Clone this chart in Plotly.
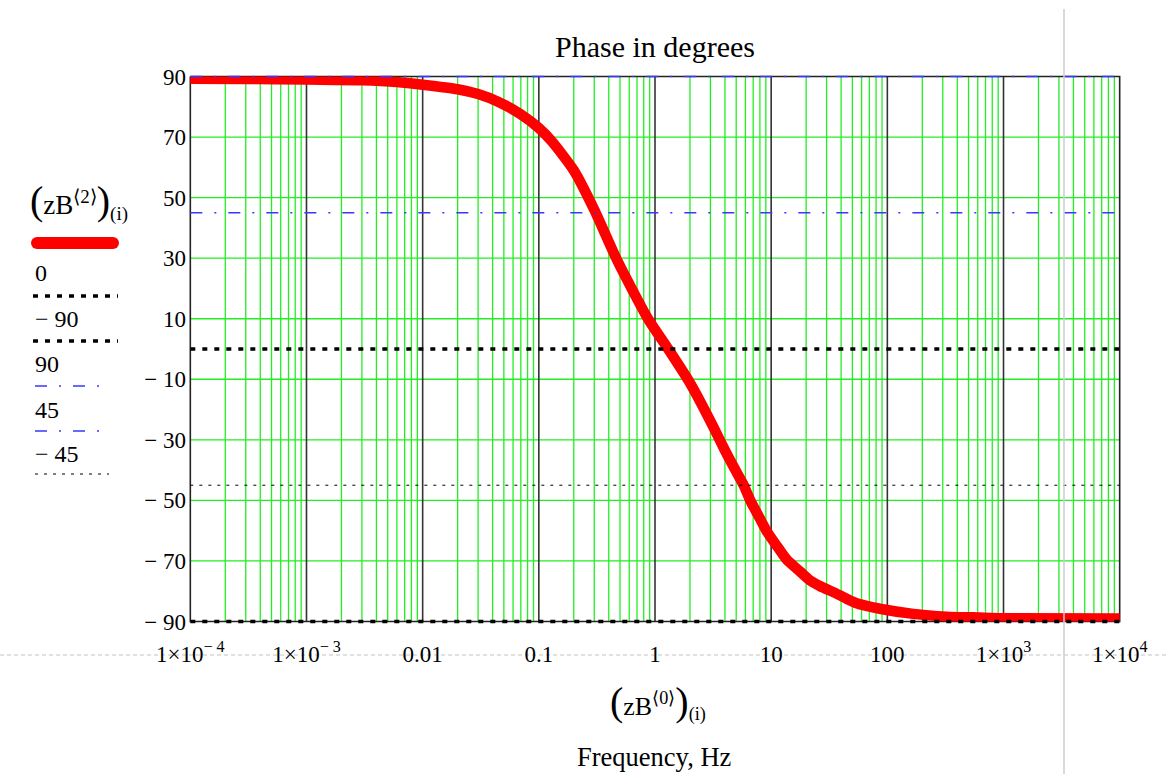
import plotly.graph_objects as go

# ---------------- data ----------------
freq = [1e-4, 3e-4, 1e-3, 3e-3, 6e-3, 0.01, 0.02, 0.03, 0.045, 0.07, 0.1, 0.13,
        0.2, 0.3, 0.47, 0.87, 1.3, 1.95, 2.5, 3.2, 4.0, 5.0, 5.8, 6.6, 8.0, 9.1, 11.9, 13.6,
        17.7, 21.5, 26.2, 36.5, 44.6, 54.3, 86, 167, 323, 625, 1000, 10000]
phase = [89.3, 89.2, 89.0, 88.8, 88.2, 87.3, 85.8, 84.2, 81.6, 77.5, 73.0, 68.5,
         59.0, 46.0, 29.5, 10.0, 0.0, -10.5, -18.0, -26.0, -33.5, -40.5, -45.0, -50.0, -56.0,
         -60.0, -66.5, -69.5, -73.5, -76.4, -78.3, -80.8, -82.5, -84.0, -85.8, -87.5, -88.4,
         -88.7, -88.9, -89.0]

ref_levels_dotted = [0, -90]      # thick black dotted
ref_levels_dashdot = [90, 45]     # blue dash-dot
ref_levels_thin = [-45]           # thin black dotted

x_decades = [-4, -3, -2, -1, 0, 1, 2, 3, 4]
SUP = "<sup>{}</sup>"
x_ticktext = ["1×10" + SUP.format("\u2212 4"), "1×10" + SUP.format("\u2212 3"), "0.01", "0.1", "1",
              "10", "100", "1×10" + SUP.format("3"), "1×10" + SUP.format("4")]
y_tickvals = [-90, -70, -50, -30, -10, 10, 30, 50, 70, 90]
y_ticktext = ["\u2212 90", "\u2212 70", "\u2212 50", "\u2212 30", "\u2212 10", "10", "30", "50", "70", "90"]
y_green = [-70, -50, -30, -10, 10, 30, 50, 70]

FONT = "Liberation Serif, Times New Roman, serif"
GREEN = "#22ee22"
BLUE = "#3838ff"

xmin, xmax = 10 ** x_decades[0], 10 ** x_decades[-1]

# ---------------- pixel helpers for paper-positioned decorations ----------------
W, H = 1169, 774
PL, PT, PW, PH = 188, 72, 934, 554


def pxx(x):
    return (x - PL) / PW


def pxy(y):
    return (PT + PH - y) / PH


fig = go.Figure()

# green minor verticals
gx, gy = [], []
for k in x_decades[:-1]:
    for m in range(2, 10):
        v = m * 10 ** k
        gx += [v, v, None]
        gy += [-90, 90, None]
# green horizontals
for v in y_green:
    gx += [xmin, xmax, None]
    gy += [v, v, None]
fig.add_trace(go.Scatter(x=gx, y=gy, mode="lines", line=dict(color=GREEN, width=1.3),
                         hoverinfo="skip", showlegend=False))

# black decade verticals
bx, by = [], []
for k in x_decades[1:-1]:
    bx += [10 ** k, 10 ** k, None]
    by += [-90, 90, None]
fig.add_trace(go.Scatter(x=bx, y=by, mode="lines", line=dict(color="#333333", width=1.6),
                         hoverinfo="skip", showlegend=False))

# frame
fig.add_trace(go.Scatter(x=[xmin, xmax, xmax, xmin, xmin], y=[90, 90, -90, -90, 90], mode="lines",
                         line=dict(color="#222222", width=1.6), hoverinfo="skip", showlegend=False))

# red curve (own subplot so it is clipped at +-90)
fig.add_trace(go.Scatter(x=freq, y=phase, mode="lines", yaxis="y2", line_shape="spline",
                         line=dict(color="#ff0000", width=10.5, smoothing=0.6), showlegend=False))

# reference lines on top
for v in ref_levels_dotted:
    fig.add_trace(go.Scatter(x=[xmin, xmax], y=[v, v], mode="lines", yaxis="y3",
                             line=dict(color="black", width=3.5, dash="5px,7px"),
                             showlegend=False, hoverinfo="skip"))
for v in ref_levels_dashdot:
    fig.add_trace(go.Scatter(x=[xmin, xmax], y=[v, v], mode="lines", yaxis="y3",
                             line=dict(color=BLUE, width=1.5, dash="12px,12px,2px,12px"),
                             showlegend=False, hoverinfo="skip"))
for v in ref_levels_thin:
    fig.add_trace(go.Scatter(x=[xmin, xmax], y=[v, v], mode="lines", yaxis="y3",
                             line=dict(color="black", width=1, dash="3px,6px"),
                             showlegend=False, hoverinfo="skip"))

d2 = 4.54 / PH

fig.update_layout(
    width=W, height=H, autosize=False,
    margin=dict(l=PL, r=W - PL - PW, t=PT, b=H - PT - PH, pad=0),
    paper_bgcolor="white", plot_bgcolor="rgba(0,0,0,0)",
    font=dict(family=FONT, color="black", size=23),
    xaxis=dict(type="log", range=[-4.02, 4.02], tickvals=[10 ** k for k in x_decades],
               ticktext=x_ticktext, showgrid=False, zeroline=False, showline=False,
               ticks="", tickfont=dict(family=FONT, size=23, color="black"),
               ticklabelstandoff=12, anchor="y"),
    yaxis=dict(range=[-91.5, 91.5], tickvals=y_tickvals, ticktext=y_ticktext,
               showgrid=False, zeroline=False, showline=False, ticks="",
               tickfont=dict(family=FONT, size=23, color="black"), ticklabelstandoff=1,
               domain=[0, 1]),
    yaxis2=dict(range=[-90, 90], domain=[d2, 1 - d2], visible=False, anchor="x",
                showgrid=False, zeroline=False),
    yaxis3=dict(range=[-91.5, 91.5], domain=[0, 1], visible=False, anchor="x",
                showgrid=False, zeroline=False),
    showlegend=False,
)

ann = []
# title
ann.append(dict(text="Phase in degrees", x=pxx(655), y=pxy(46), xref="paper", yref="paper",
                showarrow=False, xanchor="center", yanchor="middle",
                font=dict(family=FONT, size=30, color="black")))
# x axis titles
big = "<span style='font-size:40px'>{}</span>"
ann.append(dict(text=big.format("(") + "zB<sup>⟨0⟩</sup>" + big.format(")") + "<sub>(i)</sub>",
                x=pxx(658), y=pxy(702), xref="paper", yref="paper", showarrow=False,
                xanchor="center", yanchor="middle", font=dict(family=FONT, size=26, color="black")))
ann.append(dict(text="Frequency, Hz", x=pxx(654), y=pxy(757), xref="paper", yref="paper",
                showarrow=False, xanchor="center", yanchor="middle",
                font=dict(family=FONT, size=26.5, color="black")))
# legend texts
ann.append(dict(text=big.format("(") + "zB<sup>⟨2⟩</sup>" + big.format(")") + "<sub>(i)</sub>",
                x=pxx(28), y=pxy(201), xref="paper", yref="paper", showarrow=False,
                xanchor="left", yanchor="middle", font=dict(family=FONT, size=27, color="black")))
legend_items = [("0", 273), ("\u2212 90", 319), ("90", 364), ("45", 410), ("\u2212 45", 454)]
for t, yy in legend_items:
    ann.append(dict(text=t, x=pxx(33), y=pxy(yy), xref="paper", yref="paper", showarrow=False,
                    xanchor="left", yanchor="middle", font=dict(family=FONT, size=24, color="black")))
fig.update_layout(annotations=ann)

shapes = []
# legend samples
shapes.append(dict(type="rect", xref="paper", yref="paper", x0=pxx(37), x1=pxx(113),
                   y0=pxy(237), y1=pxy(249), fillcolor="#ff0000", line=dict(width=0)))
shapes.append(dict(type="circle", xref="paper", yref="paper", x0=pxx(31), x1=pxx(43),
                   y0=pxy(237), y1=pxy(249), fillcolor="#ff0000", line=dict(width=0)))
shapes.append(dict(type="circle", xref="paper", yref="paper", x0=pxx(107), x1=pxx(119),
                   y0=pxy(237), y1=pxy(249), fillcolor="#ff0000", line=dict(width=0)))
for yy in (296, 341):
    shapes.append(dict(type="line", xref="paper", yref="paper", x0=pxx(33), x1=pxx(118),
                       y0=pxy(yy), y1=pxy(yy), line=dict(color="black", width=3.5, dash="5px,7px")))
for yy in (386, 431):
    shapes.append(dict(type="line", xref="paper", yref="paper", x0=pxx(35), x1=pxx(104),
                       y0=pxy(yy), y1=pxy(yy), line=dict(color=BLUE, width=1.5, dash="12px,12px,2px,12px")))
shapes.append(dict(type="line", xref="paper", yref="paper", x0=pxx(35), x1=pxx(109),
                   y0=pxy(474), y1=pxy(474), line=dict(color="black", width=1, dash="3px,6px")))
# page artefacts
shapes.append(dict(type="line", xref="paper", yref="paper", x0=pxx(0), x1=pxx(W),
                   y0=pxy(655), y1=pxy(655), layer="below",
                   line=dict(color="#c4c4c4", width=1.2, dash="4px,3px")))
shapes.append(dict(type="line", xref="paper", yref="paper", x0=pxx(1064), x1=pxx(1064),
                   y0=pxy(9), y1=pxy(H), layer="above",
                   line=dict(color="#cccccc", width=1.5)))
fig.update_layout(shapes=shapes)

fig.write_html("out.html")
